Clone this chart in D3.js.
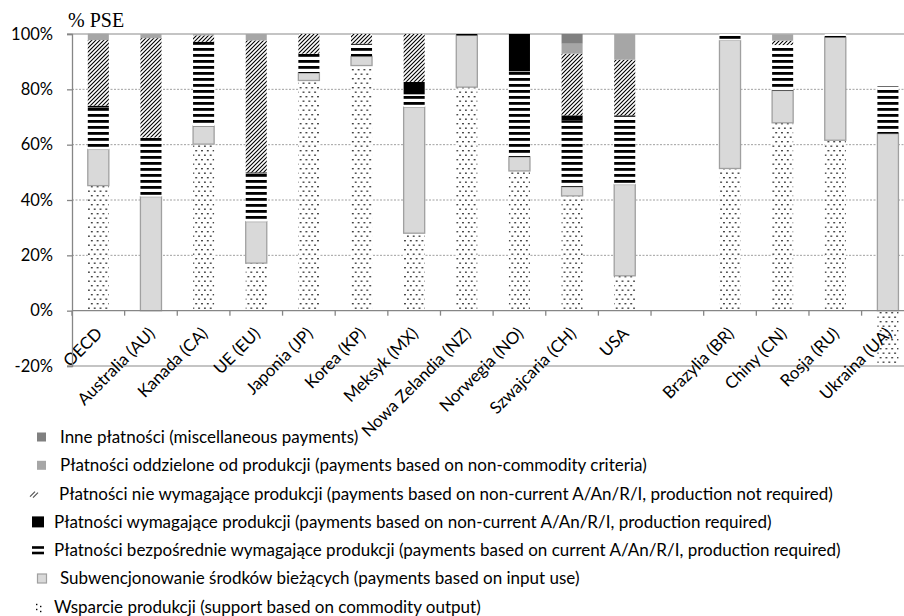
<!DOCTYPE html>
<html>
<head>
<meta charset="utf-8">
<script src="https://cdn.jsdelivr.net/npm/d3@7"></script>
<style>
  body { margin: 0; background: #fff; }
  svg { display: block; }
</style>
</head>
<body>
<div class="chart"></div>
<script>
// PSE structure by country, % of PSE. Blank slot between USA and Brazil.
const categories = ["OECD", "Australia (AU)", "Kanada (CA)", "UE (EU)", "Japonia (JP)", "Korea (KP)",
  "Meksyk (MX)", "Nowa Zelandia (NZ)", "Norwegia (NO)", "Szwajcaria (CH)", "USA", "",
  "Brazylia (BR)", "Chiny (CN)", "Rosja (RU)", "Ukraina (UA)"];

const output        = [45.2, 0,    60.2, 17.2, 83.2, 88.6, 28,   80.8, 50.5, 41.5, 12.6, 0, 51.4, 67.9, 61.6, -19];
const inputUse      = [13.1, 41.2, 6.5,  15,   2.7,  3.3,  45.6, 18.7, 5.1,  3.3,  33,   0, 46.3, 11.7, 37.2, 64];
const currentReq    = [15.1, 21.4, 29.4, 17.4, 7,    4.6,  4.6,  0,    30.9, 24,   25,   0, 2.3,  16.4, 1.2,  17.1];
const nonCurrentReq = [0.7,  0,    1.1,  0.4,  0,    0,    4.5,  0.5,  13.5, 1.8,  0,    0, 0,    0,    0,    0];
const nonCurrentNot = [23.7, 35.9, 2.3,  47.7, 7.1,  3.5,  17.3, 0,    0,    22.3, 20.1, 0, 0,    1.6,  0,    0];
const nonCommodity  = [2.3,  1.5,  0.5,  2.3,  0,    0,    0,    0,    0,    3.6,  9.3,  0, 0,    2.3,  0,    0];
const misc          = [0,    0,    0,    0,    0,    0,    0,    0,    0,    3.5,  0,    0, 0,    0,    0,    0];

const yTicks = [-20, 0, 20, 40, 60, 80, 100];

const seriesKeys = ["output", "inputUse", "currentReq", "nonCurrentReq", "nonCurrentNot", "nonCommodity", "misc"];
const seriesValues = { output, inputUse, currentReq, nonCurrentReq, nonCurrentNot, nonCommodity, misc };

const legendLabels = [
  ["misc", "Inne płatności (miscellaneous payments)"],
  ["nonCommodity", "Płatności oddzielone od produkcji (payments based on non-commodity criteria)"],
  ["nonCurrentNot", "Płatności nie wymagające produkcji (payments based on non-current A/An/R/I, production not required)"],
  ["nonCurrentReq", "Płatności wymagające produkcji (payments based on non-current A/An/R/I, production required)"],
  ["currentReq", "Płatności bezpośrednie wymagające produkcji (payments based on current A/An/R/I, production required)"],
  ["inputUse", "Subwencjonowanie środków bieżących (payments based on input use)"],
  ["output", "Wsparcie produkcji (support based on commodity output)"]
];

const width = 904, height = 616;
const margin = { left: 72, top: 34, bottom: 366 };

const svg = d3.select(".chart").append("svg")
    .attr("width", width)
    .attr("height", height);

// patterns
const defs = svg.append("defs");

const dots = defs.append("pattern")
    .attr("id", "dots")
    .attr("patternUnits", "userSpaceOnUse")
    .attr("width", 11.6).attr("height", 9);
dots.append("rect").attr("width", 11.6).attr("height", 9).attr("fill", "#fff").attr("fill-opacity", 0.85);
[[1.2, 1.5], [7, 1.5], [4.1, 6], [9.9, 6]].forEach(p => {
  dots.append("rect").attr("x", p[0]).attr("y", p[1]).attr("width", 1.4).attr("height", 1.4).attr("fill", "#000");
});

const stripes = defs.append("pattern")
    .attr("id", "stripes")
    .attr("patternUnits", "userSpaceOnUse")
    .attr("width", 6).attr("height", 6);
stripes.append("rect").attr("width", 6).attr("height", 6).attr("fill", "#fff");
stripes.append("rect").attr("y", 0).attr("width", 6).attr("height", 2.8).attr("fill", "#000");

const hatch = defs.append("pattern")
    .attr("id", "hatch")
    .attr("patternUnits", "userSpaceOnUse")
    .attr("width", 4).attr("height", 4);
hatch.append("rect").attr("width", 4).attr("height", 4).attr("fill", "#fff");
hatch.append("path")
    .attr("d", "M-1,5 L5,-1 M-1,1 L1,-1 M3,5 L5,3")
    .attr("stroke", "#000").attr("stroke-width", 1.1);

const fills = {
  output: "url(#dots)",
  inputUse: "#d9d9d9",
  currentReq: "url(#stripes)",
  nonCurrentReq: "#000",
  nonCurrentNot: "url(#hatch)",
  nonCommodity: "#a6a6a6",
  misc: "#808080"
};

const x = d3.scaleBand()
    .domain(d3.range(categories.length))
    .range([margin.left, margin.left + 16 * 52.64])
    .paddingInner(0.6)
    .paddingOuter(0.3);

const y = d3.scaleLinear()
    .domain([-20, 100])
    .range([margin.bottom, margin.top]);

const rows = categories.map((c, i) => {
  const r = { i };
  seriesKeys.forEach(k => r[k] = seriesValues[k][i]);
  return r;
});

const stacked = d3.stack()
    .keys(seriesKeys)
    .offset(d3.stackOffsetDiverging)(rows);

// gridlines
svg.append("g")
  .selectAll("line")
  .data([20, 40, 60, 80])
  .join("line")
    .attr("x1", margin.left).attr("x2", width)
    .attr("y1", d => y(d)).attr("y2", d => y(d))
    .attr("stroke", "#a0a0a0")
    .attr("stroke-dasharray", "2,1.5");

svg.append("g")
  .selectAll("line")
  .data([100, -20])
  .join("line")
    .attr("x1", margin.left - 5).attr("x2", width)
    .attr("y1", d => y(d)).attr("y2", d => y(d))
    .attr("stroke", "#b0b0b0")
    .attr("stroke-width", 1.5);

const font = "Lato, 'Open Sans', sans-serif";

// bars
svg.append("g")
  .selectAll("g")
  .data(stacked)
  .join("g")
    .attr("fill", d => fills[d.key])
    .attr("stroke", d => d.key === "inputUse" ? "#a0a0a0" : "none")
    .attr("stroke-width", 1.3)
  .selectAll("rect")
  .data(d => d.filter(s => s[1] - s[0] !== 0))
  .join("rect")
    .attr("x", d => x(d.data.i))
    .attr("width", x.bandwidth())
    .attr("y", d => y(d[1]))
    .attr("height", d => y(d[0]) - y(d[1]));

// x labels
svg.append("g")
  .selectAll("text")
  .data(categories.map((c, i) => ({ c, i })).filter(d => d.c))
  .join("text")
    .attr("transform", d => `translate(${x(d.i) + x.bandwidth() / 2 + 5},${y(0) + 24}) rotate(-45)`)
    .attr("text-anchor", "end")
    .attr("font-family", font)
    .attr("font-size", 16.8)
    .attr("fill", "#000")
    .text(d => d.c);

// x axis at 0 with ticks between slots
svg.append("line")
    .attr("x1", margin.left).attr("x2", width)
    .attr("y1", y(0)).attr("y2", y(0))
    .attr("stroke", "#868686").attr("stroke-width", 1.3);

svg.append("g")
  .selectAll("line")
  .data(d3.range(categories.length + 1))
  .join("line")
    .attr("x1", i => margin.left + i * x.step())
    .attr("x2", i => margin.left + i * x.step())
    .attr("y1", y(0)).attr("y2", y(0) + 5)
    .attr("stroke", "#868686").attr("stroke-width", 1.3);

// y axis
const yAxis = svg.append("g")
    .attr("transform", `translate(${margin.left},0)`)
    .call(d3.axisLeft(y).tickValues(yTicks).tickFormat(d => d + "%").tickSize(5).tickPadding(14));
yAxis.select(".domain").attr("stroke", "#868686").attr("stroke-width", 1.3);
yAxis.selectAll(".tick line").attr("stroke", "#868686").attr("stroke-width", 1.3);
yAxis.selectAll(".tick text")
    .attr("font-family", font)
    .attr("font-size", 16.5)
    .attr("fill", "#000");

svg.append("text")
    .attr("x", 68).attr("y", 27)
    .attr("font-family", "'Liberation Serif', 'Times New Roman', serif")
    .attr("font-size", 20)
    .attr("fill", "#000")
    .text("% PSE");

// legend
const legend = svg.append("g")
  .selectAll("g")
  .data(legendLabels)
  .join("g")
    .attr("transform", (d, i) => `translate(0,${437 + i * 28.3})`);

legend.each(function(d) {
  const g = d3.select(this);
  const k = d[0];
  let tx = 60;
  if (k === "misc" || k === "nonCommodity") {
    g.append("rect").attr("x", 37).attr("y", -4.5).attr("width", 9).attr("height", 9).attr("fill", fills[k]);
  } else if (k === "inputUse") {
    g.append("rect").attr("x", 37.5).attr("y", -4.5).attr("width", 9).attr("height", 9)
      .attr("fill", fills[k]).attr("stroke", "#a0a0a0").attr("stroke-width", 1.2);
  } else if (k === "nonCurrentNot") {
    g.append("path").attr("d", "M30,3 L35,-2 M33,4 L38,-1").attr("stroke", "#555").attr("stroke-width", 1.2);
    tx = 59;
  } else if (k === "nonCurrentReq") {
    g.append("rect").attr("x", 32).attr("y", -5.5).attr("width", 12).attr("height", 11).attr("fill", "#000");
    tx = 54;
  } else if (k === "currentReq") {
    g.append("rect").attr("x", 32).attr("y", -4).attr("width", 12).attr("height", 2.6).attr("fill", "#000");
    g.append("rect").attr("x", 32).attr("y", 1.5).attr("width", 12).attr("height", 2.6).attr("fill", "#000");
    tx = 54;
  } else if (k === "output") {
    [[36, -3], [40, -1], [36, 2], [40, 4]].forEach(p => {
      g.append("rect").attr("x", p[0]).attr("y", p[1]).attr("width", 1.4).attr("height", 1.4).attr("fill", "#000");
    });
    tx = 54;
  }
  g.append("text")
    .attr("x", tx).attr("y", 0)
    .attr("dy", "0.35em")
    .attr("font-family", font)
    .attr("font-size", 17)
    .attr("fill", "#000")
    .text(d[1]);
});
</script>
</body>
</html>
